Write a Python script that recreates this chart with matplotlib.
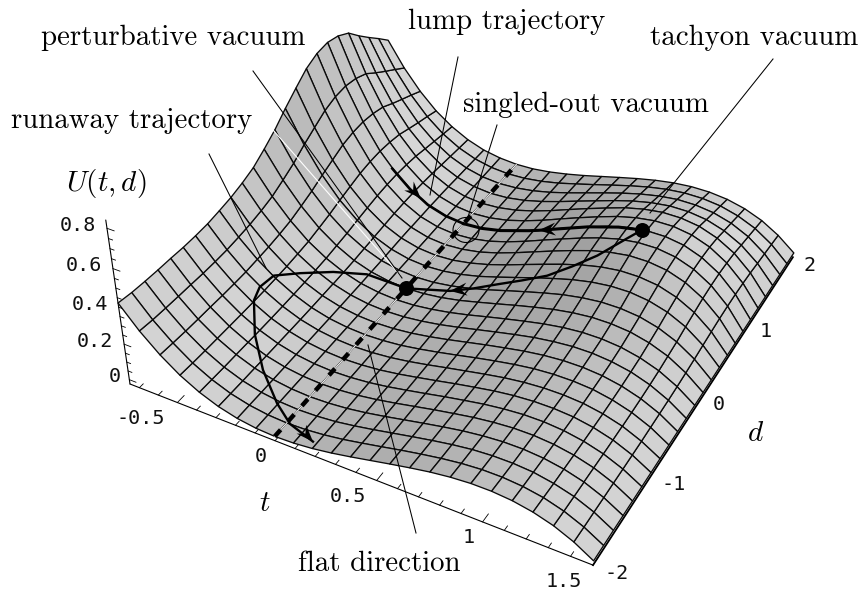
import matplotlib
matplotlib.use("Agg")
import matplotlib.pyplot as plt
import numpy as np
from matplotlib.collections import PolyCollection
from matplotlib.patches import Ellipse, Polygon

plt.rcParams["mathtext.fontset"] = "cm"

# surface U(t, d): rows are t, columns are d
t_grid = np.linspace(-0.75, 1.5, 25)
d_grid = np.linspace(-2, 2, 25)
U_table = np.array([
    [.422,.411,.405,.401,.399,.395,.395,.398,.408,.420,.439,.464,.506,.553,.612,.665,.715,.743,.751,.736,.703,.641,.584,.530,.473],
    [.310,.302,.298,.295,.293,.290,.290,.292,.299,.308,.322,.341,.372,.406,.450,.488,.525,.546,.552,.541,.516,.471,.429,.389,.347],
    [.218,.213,.209,.207,.206,.204,.204,.205,.211,.217,.227,.240,.262,.286,.316,.343,.370,.384,.388,.380,.363,.331,.302,.274,.244],
    [.144,.140,.138,.137,.136,.135,.135,.136,.139,.143,.150,.158,.173,.189,.209,.227,.244,.253,.256,.251,.240,.219,.199,.181,.161],
    [.088,.086,.084,.084,.083,.082,.082,.083,.085,.088,.092,.097,.106,.115,.128,.139,.149,.155,.157,.154,.147,.134,.122,.110,.099],
    [.047,.046,.045,.045,.044,.044,.044,.044,.045,.047,.049,.052,.056,.062,.068,.074,.080,.083,.084,.082,.078,.071,.065,.059,.053],
    [.020,.020,.019,.019,.019,.019,.019,.019,.019,.020,.021,.022,.024,.026,.029,.032,.034,.035,.036,.035,.033,.030,.028,.025,.022],
    [.005,.005,.005,.005,.005,.005,.005,.005,.005,.005,.005,.006,.006,.007,.007,.008,.008,.009,.009,.009,.008,.008,.007,.006,.006],
    [.000,.000,.000,.000,.000,.000,.000,.000,.000,.000,.000,.000,.000,.000,.000,.000,.000,.000,.000,.000,.000,.000,.000,.000,.000],
    [.004,.004,.004,.004,.004,.004,.004,.004,.004,.004,.004,.004,.005,.005,.006,.006,.007,.007,.007,.007,.007,.006,.006,.005,.004],
    [.015,.015,.014,.014,.014,.014,.014,.014,.014,.015,.016,.017,.018,.020,.022,.024,.025,.026,.027,.026,.025,.023,.021,.019,.017],
    [.032,.031,.031,.030,.030,.030,.030,.030,.031,.032,.033,.035,.038,.042,.046,.050,.054,.056,.057,.056,.053,.049,.044,.040,.036],
    [.053,.052,.051,.050,.050,.050,.050,.050,.051,.053,.055,.058,.064,.069,.077,.083,.090,.093,.094,.092,.088,.081,.073,.067,.059],
    [.076,.074,.073,.072,.072,.071,.071,.072,.073,.076,.079,.084,.091,.100,.110,.120,.129,.134,.135,.133,.127,.116,.105,.095,.085],
    [.099,.097,.095,.094,.094,.093,.093,.093,.096,.099,.103,.109,.119,.130,.144,.156,.168,.174,.176,.173,.165,.150,.137,.124,.111],
    [.121,.118,.116,.115,.114,.113,.113,.114,.117,.120,.126,.133,.145,.159,.175,.191,.205,.213,.215,.211,.201,.184,.168,.152,.136],
    [.141,.137,.135,.134,.133,.132,.132,.133,.136,.140,.147,.155,.169,.185,.204,.222,.239,.248,.251,.246,.235,.214,.195,.177,.158],
    [.156,.152,.150,.148,.147,.146,.146,.147,.151,.155,.162,.172,.187,.204,.226,.246,.264,.275,.278,.272,.260,.237,.216,.196,.175],
    [.165,.161,.158,.157,.156,.155,.154,.155,.159,.164,.172,.182,.198,.216,.239,.260,.280,.290,.294,.288,.275,.251,.229,.207,.185],
    [.166,.162,.159,.158,.157,.156,.155,.156,.160,.165,.173,.183,.199,.217,.241,.261,.281,.292,.295,.290,.276,.252,.230,.208,.186],
    [.158,.154,.152,.150,.149,.148,.148,.149,.153,.157,.164,.174,.190,.207,.229,.249,.268,.278,.281,.276,.263,.240,.219,.198,.177],
    [.139,.136,.133,.132,.131,.130,.130,.131,.134,.138,.145,.153,.167,.182,.202,.219,.236,.245,.247,.243,.231,.211,.193,.174,.156],
    [.108,.105,.104,.103,.102,.101,.101,.102,.104,.107,.112,.119,.130,.141,.157,.170,.183,.190,.192,.188,.180,.164,.150,.136,.121],
    [.062,.060,.060,.059,.059,.058,.058,.058,.060,.062,.064,.068,.074,.081,.090,.098,.105,.109,.110,.108,.103,.094,.086,.078,.069],
    [.000,.000,.000,.000,.000,.000,.000,.000,.000,.000,.000,.000,.000,.000,.000,.000,.000,.000,.000,.000,.000,.000,.000,.000,.000],
])

# trajectories on the surface
runaway_t = [.915, .88, .796, .71, .619, .51, .402, .3, .2, 0, -.195, -.315, -.413, -.48, -.49, -.47, -.377, -.25, -.1, .016, .166]
runaway_d = [1, .87, .615, .48, .362, .3, .243, .17, .103, 0, -.05, -.23, -.458, -.66, -.84, -.98, -1.23, -1.47, -1.69, -1.83, -1.93]
runaway_u = [.29, .282, .248, .207, .166, .122, .081, .047, .021, 0, .027, .065, .109, .148, .15, .138, .084, .035, .005, 0, .012]

lump_t = [.915, .8, .65, .5, .4, .35, .2, .1, 0]
lump_u = [.29, .265, .213, .148, .104, .084, .031, .008, 0]
lump_back_t = [-.4, -.3, -.24, -.2, -.1, 0]
lump_back_u = [.18, .096, .064, .04, .01, 0]
lump_d = 1.0

flat_t = [0, 0]
flat_d = [-2, 2]
flat_u = [0, 0]

t_ticks = [-0.5, 0, 0.5, 1, 1.5]
t_labels = ["-0.5", "0", "0.5", "1", "1.5"]
d_ticks = [-2, -1, 0, 1, 2]
d_labels = ["-2", "-1", "0", "1", "2"]
u_ticks = [0, 0.2, 0.4, 0.6, 0.8]
u_labels = ["0", "0.2", "0.4", "0.6", "0.8"]

U_FLOOR = -0.025
U_TOP = 0.84


def depth(t, d, u):
    return 1 - 0.0391 * (t + 0.75) + 0.0467 * (d + 2) - 0.101 * (u - U_FLOOR)


def project(t, d, u):
    # perspective camera, fitted to the box corners, gives pixel coordinates
    t, d, u = np.asarray(t, float), np.asarray(d, float), np.asarray(u, float)
    tp, dp, h = t + 0.75, d + 2, u - U_FLOOR
    w = depth(t, d, u)
    x = (130 + 182.6 * tp + 82.6 * dp - 38.7 * h) / w
    y = (384 + 58.4 * tp - 58.2 * dp - 211.8 * h) / w
    return x, y


def shade(dudt, dudd):
    # one soft light from the +t, +d side, box ratio 1:1:0.4
    sx, sy = 0.47 * 2.25 * dudt, 0.47 * 4 * dudd
    norm = np.sqrt(sx**2 + sy**2 + 1)
    nz = 1 / norm
    lit = (-0.5 * sx - 0.3 * sy + 0.8) / norm
    gain = 0.55 if lit > 0.8 else 0.42
    return np.clip(0.74 + gain * (lit - 0.8) + 0.05 * (1 - nz), 0.63, 0.85)


def arrow_head(ax, tip, tail, length=17, half=6.5, notch=11):
    tip, tail = np.array(tip, float), np.array(tail, float)
    u = (tip - tail) / np.hypot(*(tip - tail))
    n = np.array([-u[1], u[0]])
    pts = [tip, tip - length * u + half * n, tip - notch * u, tip - length * u - half * n]
    ax.add_patch(Polygon(pts, closed=True, fc="black", ec="none", zorder=6))


fig = plt.figure(figsize=(8.6, 5.93), dpi=100)
ax = fig.add_axes([0, 0, 1, 1])
ax.set_xlim(0, 860)
ax.set_ylim(593, 0)
ax.axis("off")

# box axes
axis_kw = dict(color="black", lw=0.8, zorder=1, solid_capstyle="round")
ax.plot(*project([-0.75, 1.5], [-2, -2], [U_FLOOR, U_FLOOR]), **axis_kw)
ax.plot(*project([1.5, 1.5], [-2, 2], [U_FLOOR, U_FLOOR]), color="black", lw=1.3, zorder=1)
ax.plot(*project([-0.75, -0.75], [-2, -2], [U_FLOOR, U_TOP]), **axis_kw)
for tick in np.arange(-0.7, 1.51, 0.1):
    size = 0.09 if abs(tick * 2 - round(tick * 2)) < 1e-6 else 0.05
    ax.plot(*project([tick, tick], [-2, -2 + size], [U_FLOOR, U_FLOOR]), color="black", lw=0.6, zorder=1)
for tick in np.arange(0, 0.81, 0.05):
    size = 0.035 if abs(tick * 5 - round(tick * 5)) < 1e-6 else 0.02
    ax.plot(*project([-0.75, -0.75 + size], [-2, -2], [tick, tick]), color="black", lw=0.6, zorder=1)

mono = dict(family="DejaVu Sans Mono", fontsize=14.5, color="#111111", va="center", ha="center")
for tick, label in zip(t_ticks, t_labels):
    x, y = project(tick, -2, U_FLOOR)
    ax.text(x - 7 - 7.3 * len(label), y + 16, label, **mono)
for tick, label in zip(d_ticks, d_labels):
    x, y = project(1.5, tick, U_FLOOR)
    ax.text(x + 9 + 7.3 * len(label), y + 8, label, **mono)
for tick, label in zip(u_ticks, u_labels):
    x, y = project(-0.75, -2, tick)
    ax.text(x - 7 - 7.3 * len(label), y - 3, label, **mono)

# surface, far quads first
T, D = np.meshgrid(t_grid, d_grid, indexing="ij")
X, Y = project(T, D, U_table)
W = depth(T, D, U_table)
dt, dd = t_grid[1] - t_grid[0], d_grid[1] - d_grid[0]
quads, greys, depths = [], [], []
for i in range(len(t_grid) - 1):
    for j in range(len(d_grid) - 1):
        quads.append([(X[i, j], Y[i, j]), (X[i + 1, j], Y[i + 1, j]),
                      (X[i + 1, j + 1], Y[i + 1, j + 1]), (X[i, j + 1], Y[i, j + 1])])
        dudt = (U_table[i + 1, j] + U_table[i + 1, j + 1] - U_table[i, j] - U_table[i, j + 1]) / (2 * dt)
        dudd = (U_table[i, j + 1] + U_table[i + 1, j + 1] - U_table[i, j] - U_table[i + 1, j]) / (2 * dd)
        greys.append(shade(dudt, dudd))
        depths.append(W[i:i + 2, j:j + 2].mean())
order = np.argsort(depths)[::-1]
faces = [(greys[k], greys[k], greys[k]) for k in order]
ax.add_collection(PolyCollection([quads[k] for k in order], facecolors=faces,
                                 edgecolors="#0a0a0a", linewidths=0.95, zorder=2))

# flat direction
fx, fy = project(flat_t, flat_d, flat_u)
ax.plot(fx, fy, color="white", lw=0.7, zorder=3)
ax.plot(fx, fy, color="black", lw=3.2, dashes=(2.0, 2.6), dash_capstyle="butt", zorder=3)

# trajectories
rx, ry = project(runaway_t, runaway_d, runaway_u)
ax.plot(rx, ry, color="black", lw=1.7, zorder=4, solid_joinstyle="round")
lx, ly = project(lump_t, [lump_d] * len(lump_t), lump_u)
ax.plot(lx, ly, color="black", lw=2.2, zorder=4, solid_joinstyle="round")
bx, by = project(lump_back_t, [lump_d] * len(lump_back_t), lump_back_u)
ax.plot(bx, by, color="black", lw=1.9, zorder=4, solid_joinstyle="round")

arrow_head(ax, (rx[-1], ry[-1]), (rx[-3], ry[-3]))
arrow_head(ax, (rx[8], ry[8]), (rx[7], ry[7]))
arrow_head(ax, (lx[4], ly[4]), (lx[3], ly[3]))
arrow_head(ax, (bx[2], by[2]), (bx[0], by[0]))

ax.plot([rx[0], rx[9]], [ry[0], ry[9]], ls="none", marker="o", ms=10.8, color="black", mew=0, zorder=5)

# thin leaders and the circle round the singled-out vacuum
leaders = [
    ((253, 71), (402, 278)),
    ((209, 154), (266, 268)),
    ((458, 57), (430, 195)),
    ((497, 125), (468, 217)),
    ((773, 59), (650, 213)),
    ((368, 345), (416, 533)),
]
for a, b in leaders:
    ax.plot([a[0], b[0]], [a[1], b[1]], color="black", lw=0.75, zorder=6)
ax.plot([273, 400], [130, 275], color="white", lw=0.8, zorder=3)
ax.add_patch(Ellipse((466, 230), 26, 25, fc="none", ec="black", lw=0.8, zorder=6))

serif = dict(family="cmr10", fontsize=20.8, color="black", ha="left", va="baseline")
ax.text(41, 45, "perturbative vacuum", **serif)
ax.text(11, 128, "runaway trajectory", **serif)
ax.text(408, 29, "lump trajectory", **serif)
ax.text(650, 45, "tachyon vacuum", **serif)
ax.text(463, 112, "singled-out vacuum", **serif)
ax.text(298, 571, "flat direction", **serif)

math_kw = dict(fontsize=21, color="black", ha="center", va="center")
ax.text(106, 183, r"$U(t,d)$", **math_kw)
ax.text(265, 503, r"$t$", **math_kw)
ax.text(756, 433, r"$d$", **math_kw)

fig.savefig("out.png", dpi=100)
